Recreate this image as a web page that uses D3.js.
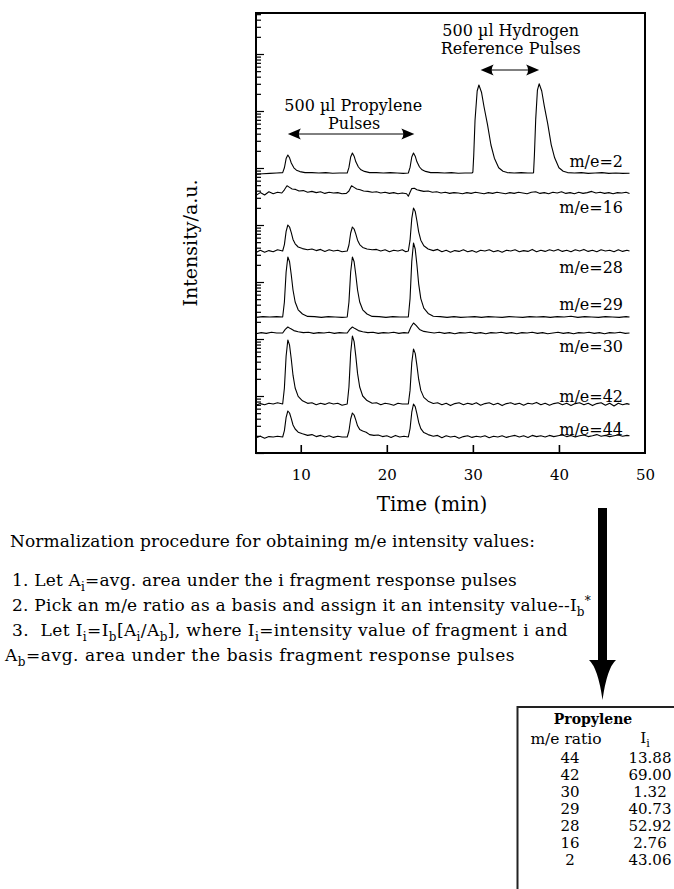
<!DOCTYPE html>
<html><head><meta charset="utf-8">
<script src="https://cdn.jsdelivr.net/npm/d3@7"></script>
<style>
body{margin:0;background:#fff}
svg{display:block}
text{font-family:"DejaVu Serif",serif;fill:#000}
</style>
</head><body>
<svg id="c" width="674" height="889" font-family="DejaVu Serif"></svg>
<script>
// ---------------- DATA ----------------
const traceNames = ["m/e=2","m/e=16","m/e=28","m/e=29","m/e=30","m/e=42","m/e=44"];
const traceBaselines = [70, 65, 50.5, 34, 30, 12.25, 4];   // a.u. offsets of each trace
const me2 = [[4.8,-0.3],[5.6,-0.2],[6.4,-0.1],[7.2,0.0],
 [7.9,0.1],[8.1,1.3],[8.3,3.6],[8.5,4.5],[8.7,3.8],[8.9,2.5],[9.2,1.3],[9.5,0.7],[9.9,0.35],[10.5,0.1],
 [11.3,0.1],[12.1,0.0],[12.9,0.1],[13.7,-0.05],[14.5,0.0],
 [15.4,0.0],[15.6,1.4],[15.8,4.0],[16.0,5.0],[16.2,4.2],[16.4,2.8],[16.7,1.5],[17.0,0.8],[17.4,0.4],[18.0,0.1],
 [18.8,0.1],[19.6,0.0],[20.4,0.1],[21.2,0.0],[21.9,-0.1],
 [22.5,0.0],[22.7,1.4],[22.9,4.0],[23.1,5.0],[23.3,4.2],[23.5,2.8],[23.8,1.5],[24.1,0.8],[24.5,0.4],[25.1,0.1],
 [25.9,0.1],[26.7,0.0],[27.5,0.1],[28.3,-0.05],[29.1,0.0],[29.9,0.0],
 [30.0,0.2],[30.1,4.4],[30.25,13.2],[30.5,20.5],[30.7,22],[31.0,20.2],[31.3,16.5],[31.7,12.1],[32.1,7.0],[32.5,3.7],[33.0,1.3],[33.5,0.45],[34.0,0.1],
 [34.8,0.0],[35.6,0.1],[36.4,0.0],[37.0,0.0],
 [37.05,0.1],[37.15,4.5],[37.3,13.4],[37.5,20.7],[37.7,22.3],[38.0,20.5],[38.3,16.7],[38.7,12.3],[39.1,7.1],[39.5,3.8],[40.0,1.3],[40.5,0.45],[41.0,0.1],
 [41.8,0.0],[42.6,0.1],[43.4,-0.1],[44.2,0.0],[45.0,0.1],[45.8,-0.1],[46.6,0.0],[47.4,-0.1],[48.2,-0.05]];
const me16 = [[4.8,-0.6],[5.3,0.1],[5.8,-0.5],[6.3,0.3],[6.8,-0.2],[7.3,0.2],[7.8,0.0],[8.1,0.8],[8.4,1.8],[8.7,1.4],[9.0,1.0],[9.4,0.9],[9.8,0.5],[10.3,0.6],[10.8,0.2],[11.3,0.4],[11.8,0.1],[12.3,0.3],[12.8,-0.1],[13.3,0.2],[13.8,0.0],[14.3,0.1],[14.8,-0.2],[15.3,-0.1],[15.6,0.5],[15.9,1.8],[16.2,1.4],[16.5,1.0],[16.9,0.8],[17.3,0.5],[17.8,0.4],[18.3,0.2],[18.8,0.3],[19.3,0.0],[19.8,0.2],[20.3,-0.1],[20.8,0.1],[21.3,-0.2],[21.8,0.0],[22.3,-0.2],[22.5,-0.8],[22.7,0.2],[22.9,1.1],[23.2,1.2],[23.5,0.8],[23.9,0.6],[24.3,0.4],[24.8,0.5],[25.3,0.2],[25.8,0.3],[26.3,0.0],[26.8,0.2],[27.3,-0.1],[27.8,0.1],[28.3,0.0],[28.8,-0.2],[29.3,0.1],[29.8,-0.1],[30.3,0.2],[30.8,0.0],[31.3,-0.2],[31.8,0.1],[32.3,-0.1],[32.8,0.2],[33.3,0.0],[33.8,-0.2],[34.3,0.1],[34.8,-0.1],[35.3,0.2],[35.8,0.0],[36.3,-0.2],[36.8,0.2],[37.3,0.3],[37.8,-0.1],[38.3,0.1],[38.8,-0.2],[39.3,0.2],[39.8,0.0],[40.3,0.3],[40.8,-0.1],[41.3,0.1],[41.8,-0.2],[42.3,0.2],[42.8,-0.1],[43.3,0.1],[43.8,0.4],[44.3,0.0],[44.8,0.2],[45.3,-0.1],[45.8,0.1],[46.3,-0.2],[46.8,0.1],[47.3,0.0],[47.8,0.2],[48.2,-0.1]];
const me28 = [[4.8,-0.4],[5.3,0.2],[5.8,-0.3],[6.3,0.1],[6.8,-0.2],[7.3,0.3],[7.9,0.0],
 [8.1,1.6],[8.3,4.9],[8.5,6.5],[8.7,6.0],[8.9,4.6],[9.1,2.9],[9.35,1.8],[9.7,1.0],[10.2,0.6],[10.8,0.3],
 [11.3,0.5],[11.8,0.1],[12.3,0.4],[12.8,-0.1],[13.3,0.3],[13.8,0.0],[14.3,0.2],[14.8,-0.2],[15.4,0.0],
 [15.6,1.5],[15.8,4.5],[16.0,6.0],[16.2,5.5],[16.4,4.2],[16.6,2.7],[16.85,1.6],[17.2,0.9],[17.7,0.5],[18.3,0.3],
 [18.8,0.4],[19.3,0.0],[19.8,0.3],[20.3,-0.2],[20.8,0.2],[21.3,0.0],[21.8,0.3],[22.2,-0.2],[22.5,0.0],
 [22.7,2.7],[22.9,8.1],[23.1,10.75],[23.3,9.9],[23.5,7.5],[23.7,4.8],[23.95,2.7],[24.3,1.3],[24.8,0.5],[25.4,0.1],
 [25.9,0.4],[26.4,-0.2],[26.9,0.2],[27.4,-0.3],[27.9,0.1],[28.4,-0.1],[28.9,0.3],[29.4,-0.2],[29.9,0.1],[30.4,-0.3],[30.9,0.2],[31.4,0.0],[31.9,0.3],[32.4,-0.2],[32.9,0.1],[33.4,-0.3],[33.9,0.2],[34.4,0.0],[34.9,0.3],[35.4,-0.2],[35.9,0.1],[36.4,-0.1],[36.9,0.4],[37.4,-0.2],[37.9,0.2],[38.4,-0.1],[38.9,0.3],[39.4,0.0],[39.9,0.4],[40.4,-0.1],[40.9,0.2],[41.4,-0.2],[41.9,0.3],[42.4,0.0],[42.9,0.4],[43.4,-0.1],[43.9,0.2],[44.4,-0.2],[44.9,0.3],[45.4,0.0],[45.9,0.2],[46.4,-0.2],[46.9,0.3],[47.4,-0.1],[47.9,0.2],[48.2,0.0]];
const me29 = [[4.8,-0.1],[5.6,0.1],[6.4,0.0],[7.2,0.1],[7.9,0.0],
 [8.1,3.75],[8.3,11.25],[8.5,15],[8.7,13.8],[8.9,10.5],[9.1,6.75],[9.35,3.75],[9.7,1.8],[10.2,0.75],[10.8,0.15],
 [11.6,0.1],[12.4,-0.1],[13.2,0.1],[14.0,0.0],[14.8,-0.1],[15.4,0.0],
 [15.6,3.75],[15.8,11.25],[16.0,15],[16.2,13.8],[16.4,10.5],[16.6,6.75],[16.85,3.75],[17.2,1.8],[17.7,0.75],[18.3,0.15],
 [19.1,0.1],[19.9,-0.1],[20.7,0.1],[21.5,0.0],[22.5,0.0],
 [22.7,4.6],[22.9,13.9],[23.1,18.5],[23.3,17.0],[23.5,13.0],[23.7,8.3],[23.95,4.6],[24.3,2.2],[24.8,0.9],[25.4,0.2],
 [26.2,0.1],[27.0,-0.1],[27.8,0.1],[28.6,-0.1],[29.4,0.0],[30.2,0.1],[31.0,-0.1],[31.8,0.1],[32.6,0.0],[33.4,-0.1],[34.2,0.1],[35.0,0.0],[35.8,-0.1],[36.6,0.1],[37.4,0.0],[38.2,0.1],[39.0,-0.1],[39.8,0.1],[40.6,0.0],[41.4,0.2],[42.2,-0.1],[43.0,0.1],[43.8,0.0],[44.6,-0.1],[45.4,0.1],[46.2,0.0],[47.0,-0.1],[47.8,0.1],[48.2,0.0]];
const me30 = [[4.8,-0.2],[5.4,0.1],[6.0,-0.1],[6.6,0.2],[7.2,0.0],[7.9,0.0],[8.2,0.9],[8.5,1.5],[8.8,1.1],[9.2,0.6],[9.7,0.3],[10.3,0.1],[10.9,0.2],[11.5,-0.1],[12.1,0.1],[12.7,0.0],[13.3,0.2],[13.9,-0.1],[14.5,0.1],[15.1,0.0],[15.4,0.0],[15.7,0.9],[16.0,1.5],[16.3,1.1],[16.7,0.6],[17.2,0.3],[17.8,0.1],[18.4,0.2],[19.0,-0.1],[19.6,0.1],[20.2,0.0],[20.8,0.2],[21.4,-0.1],[22.0,0.1],[22.5,0.0],[22.8,1.5],[23.1,2.5],[23.4,1.9],[23.8,0.9],[24.3,0.4],[24.9,0.2],[25.5,0.0],[26.1,0.2],[26.7,-0.1],[27.3,0.1],[27.9,-0.2],[28.5,0.1],[29.1,0.0],[29.7,0.2],[30.3,-0.1],[30.9,0.1],[31.5,-0.2],[32.1,0.1],[32.7,0.0],[33.3,0.2],[33.9,-0.1],[34.5,0.1],[35.1,-0.2],[35.7,0.1],[36.3,0.0],[36.9,0.2],[37.5,-0.1],[38.1,0.1],[38.7,-0.2],[39.3,0.0],[39.9,0.2],[40.5,-0.1],[41.1,0.1],[41.7,-0.2],[42.3,0.1],[42.9,0.0],[43.5,0.2],[44.1,-0.1],[44.7,0.1],[45.3,-0.2],[45.9,0.1],[46.5,0.0],[47.1,0.2],[47.7,-0.1],[48.2,0.0]];
const me42 = [[4.8,-0.3],[5.3,0.1],[5.8,-0.2],[6.3,0.2],[6.8,0.0],[7.3,0.3],[7.9,0.0],
 [8.1,4.0],[8.3,12.0],[8.5,16],[8.7,14.7],[8.9,11.2],[9.1,7.2],[9.35,4.0],[9.7,1.9],[10.2,0.8],[10.8,0.16],
 [11.3,0.3],[11.8,-0.2],[12.3,0.2],[12.8,-0.1],[13.3,0.3],[13.8,0.0],[14.3,0.2],[14.8,-0.3],[15.4,0.0],
 [15.6,4.25],[15.8,12.75],[16.0,17],[16.2,15.6],[16.4,11.9],[16.6,7.65],[16.85,4.25],[17.2,2.0],[17.7,0.85],[18.3,0.17],
 [18.8,0.3],[19.3,-0.2],[19.8,0.2],[20.3,0.0],[20.8,-0.3],[21.3,0.2],[21.8,0.0],[22.5,0.0],
 [22.7,3.4],[22.9,10.3],[23.1,13.75],[23.3,12.65],[23.5,9.6],[23.7,6.2],[23.95,3.4],[24.3,1.65],[24.8,0.7],[25.4,0.14],
 [25.9,0.3],[26.4,-0.2],[26.9,0.2],[27.4,-0.4],[27.9,0.1],[28.4,0.3],[28.9,-0.2],[29.4,0.2],[29.9,-0.1],[30.4,0.3],[30.9,-0.3],[31.4,0.1],[31.9,0.3],[32.4,-0.2],[32.9,0.2],[33.4,-0.4],[33.9,0.1],[34.4,0.3],[34.9,-0.1],[35.4,0.2],[35.9,-0.3],[36.4,0.2],[36.9,0.0],[37.4,0.4],[37.9,-0.2],[38.4,0.2],[38.9,-0.3],[39.4,0.1],[39.9,0.3],[40.4,-0.2],[40.9,0.2],[41.4,-0.4],[41.9,0.1],[42.4,0.3],[42.9,-0.2],[43.4,0.2],[43.9,-0.4],[44.4,0.1],[44.9,0.3],[45.4,-0.3],[45.9,0.2],[46.4,-0.5],[46.9,0.2],[47.4,-0.2],[47.9,0.1],[48.2,-0.1]];
const me44 = [[4.8,-0.2],[5.3,0.2],[5.8,-0.3],[6.3,0.1],[6.8,0.0],[7.3,0.2],[7.9,0.0],
 [8.1,1.6],[8.3,4.9],[8.5,6.5],[8.7,6.0],[8.9,4.6],[9.1,3.0],[9.35,2.0],[9.7,1.2],[10.2,0.8],[10.8,0.4],
 [11.3,0.6],[11.8,0.1],[12.3,0.4],[12.8,0.0],[13.3,0.3],[13.8,-0.1],[14.3,0.2],[14.8,0.0],[15.4,0.0],
 [15.6,1.5],[15.8,4.5],[16.0,6.0],[16.2,5.5],[16.4,4.2],[16.6,2.8],[16.85,1.9],[17.2,1.5],[17.6,1.2],[18.0,0.6],[18.5,0.4],
 [19.0,0.5],[19.5,0.1],[20.0,0.3],[20.5,-0.1],[21.0,0.4],[21.5,0.0],[22.0,0.2],[22.5,0.0],
 [22.7,2.1],[22.9,6.2],[23.1,8.25],[23.3,7.6],[23.5,5.8],[23.7,3.7],[23.95,2.1],[24.3,1.1],[24.8,0.6],[25.4,0.2],
 [25.9,0.4],[26.4,-0.2],[26.9,0.3],[27.4,0.0],[27.9,0.2],[28.4,-0.3],[28.9,0.1],[29.4,0.3],[29.9,-0.1],[30.4,0.2],[30.9,0.0],[31.4,0.3],[31.9,-0.2],[32.4,0.2],[32.9,0.0],[33.4,0.3],[33.9,-0.1],[34.4,0.2],[34.9,0.4],[35.4,0.0],[35.9,0.3],[36.4,-0.1],[36.9,0.4],[37.4,0.1],[37.9,0.3],[38.4,0.0],[38.9,0.4],[39.4,0.1],[39.9,0.3],[40.4,0.5],[40.9,0.1],[41.4,0.4],[41.9,0.0],[42.4,0.3],[42.9,0.5],[43.4,0.1],[43.9,0.3],[44.4,0.6],[44.9,0.2],[45.4,0.4],[45.9,0.1],[46.4,0.3],[46.9,0.5],[47.4,0.2],[47.9,0.4],[48.2,0.3]];
const traces = [me2, me16, me28, me29, me30, me42, me44];
const xTickValues = [10, 20, 30, 40, 50];
const tableMe = ["44","42","30","29","28","16","2"];
const tableI  = ["13.88","69.00","1.32","40.73","52.92","2.76","43.06"];

// ---------------- LAYOUT ----------------
const L = {left:256, right:645, top:13, bottom:453};
const labelDy = [1.5, -5, -5.5, 1.75, -4.75, 0.5, 0.5];   // label baseline offset (a.u.) from trace baseline
const labelT = 47.45;                                  // label right edge (min)

const svg = d3.select("#c");
const x = d3.scaleLinear().domain([4.8, 50]).range([L.left, L.right]);
const y = d3.scaleLinear().domain([0, 110]).range([L.bottom, L.top]);

// log-like intensity ticks on the left
const yLog = d3.scaleLog().domain([1, Math.pow(10, 440/57)]).range([L.bottom, L.top]);
const gy = svg.append("g").attr("transform", `translate(${L.left},0)`)
  .call(d3.axisRight(yLog).tickValues(yLog.ticks(20)).tickFormat("").tickSizeOuter(0));
gy.select(".domain").remove();
gy.selectAll(".tick line").attr("stroke","#000").attr("stroke-width",1.2)
  .attr("x2", d => Math.abs(Math.log10(d) - Math.round(Math.log10(d))) < 1e-9 ? 8 : 5);

// x axis
const gx = svg.append("g").attr("transform", `translate(0,${L.bottom})`)
  .call(d3.axisBottom(x).tickValues(xTickValues).tickSize(-8).tickSizeOuter(0).tickFormat(d3.format("d")));
gx.select(".domain").remove();
gx.selectAll(".tick line").attr("stroke","#000").attr("stroke-width",1.6)
  .attr("opacity", d => d === 50 ? 0 : 1);
gx.selectAll(".tick text").attr("y", 27).attr("dy", 0)
  .style("font-family","DejaVu Serif").style("font-size","15px").attr("fill","#000");

// frame
svg.append("rect").attr("x",L.left).attr("y",L.top).attr("width",L.right-L.left).attr("height",L.bottom-L.top)
  .attr("fill","none").attr("stroke","#000").attr("stroke-width",2);

// traces
const line = d3.line().x(d => x(d[0]));
traces.forEach((tr, i) => {
  svg.append("path").datum(tr)
    .attr("d", line.y(d => y(traceBaselines[i] + d[1])))
    .attr("fill","none").attr("stroke","#000").attr("stroke-width",1.1).attr("stroke-linejoin","round");
  svg.append("text").attr("x", x(labelT)).attr("y", y(traceBaselines[i] + labelDy[i]))
    .attr("text-anchor","end").style("font-size","16px").text(traceNames[i]);
});

// annotations
function dblArrow(t1, t2, v) {
  const x1 = x(t1), x2 = x(t2), yy = y(v);
  svg.append("line").attr("x1",x1+6).attr("x2",x2-6).attr("y1",yy).attr("y2",yy).attr("stroke","#000").attr("stroke-width",1);
  const head = (tx, dir) => `M${tx},${yy} L${tx+dir*13},${yy-5.5} Q${tx+dir*9},${yy} ${tx+dir*13},${yy+5.5} Z`;
  svg.append("path").attr("d", head(x1, 1)).attr("fill","#000");
  svg.append("path").attr("d", head(x2, -1)).attr("fill","#000");
}
dblArrow(30.9, 37.7, 95.75);
dblArrow(8.5, 23.2, 79.75);
const ann = [["500 µl Hydrogen",34.4,104.25],["Reference Pulses",34.4,99.75],
             ["500 µl Propylene",16.1,85.4],["Pulses",16.2,81]];
ann.forEach(a => svg.append("text").attr("x", x(a[1])).attr("y", y(a[2]))
  .attr("text-anchor","middle").style("font-size","16px").text(a[0]));

// axis titles
svg.append("text").attr("transform","translate(197,243) rotate(-90)").attr("text-anchor","middle")
  .style("font-size","19px").text("Intensity/a.u.");
svg.append("text").attr("x",432).attr("y",511).attr("text-anchor","middle")
  .style("font-size","20px").text("Time (min)");

// big down arrow
svg.append("rect").attr("x",598).attr("y",508).attr("width",9).attr("height",160).attr("fill","#000");
svg.append("path").attr("d","M589,660 Q598,668 602.5,700 Q607,668 616,660 Z").attr("fill","#000");

// text block
const tb = svg.append("g").style("font-size","17px");
function richLine(xp, yp, xEnd, parts) {
  const t = tb.append("text").attr("x", xp).attr("y", yp)
    .attr("xml:space","preserve").style("white-space","pre");
  let shift = 0;
  parts.forEach(p => {
    const s = typeof p === "string" ? {t:p, d:0} : p;
    const ts = t.append("tspan").text(s.t).attr("dy", s.d - shift);
    if (s.d !== 0) ts.style("font-size","12px");
    shift = s.d;
  });
  const w = t.node().getComputedTextLength();
  const n = t.text().length;
  t.style("letter-spacing", ((xEnd - xp - w) / n) + "px");
}
const sub = t => ({t, d:5});
const sup = t => ({t, d:-6});
richLine(10, 547, 535, ["Normalization procedure for obtaining m/e intensity values:"]);
richLine(12, 586, 517, ["1. Let A", sub("i"), "=avg. area under the i fragment response pulses"]);
richLine(12, 611, 591, ["2. Pick an m/e ratio as a basis and assign it an intensity value--I", sub("b"), sup("*")]);
richLine(12, 636, 568, ["3.  Let I", sub("i"), "=I", sub("b"), "[A", sub("i"), "/A", sub("b"), "], where I", sub("i"), "=intensity value of fragment i and"]);
richLine(5, 661, 515, ["A", sub("b"), "=avg. area under the basis fragment response pulses"]);

// table
svg.append("path").attr("d","M517.5,889 V707 H674").attr("fill","none").attr("stroke","#222").attr("stroke-width",2);
svg.append("text").attr("x",593).attr("y",724).attr("text-anchor","middle")
  .style("font-size","14px").style("font-weight","bold").text("Propylene");
svg.append("text").attr("x",566).attr("y",744).attr("text-anchor","middle").style("font-size","15.5px").text("m/e ratio");
const ih = svg.append("text").attr("x",645).attr("y",743).attr("text-anchor","middle").style("font-size","15.5px");
ih.append("tspan").text("I");
ih.append("tspan").text("i").attr("dy",4).style("font-size","11px");
const rowY = d3.scalePoint().domain(tableMe).range([763, 865]);
tableMe.forEach((m, i) => {
  svg.append("text").attr("x",570).attr("y",rowY(m)).attr("text-anchor","middle").style("font-size","15px").text(m);
  svg.append("text").attr("x",650).attr("y",rowY(m)).attr("text-anchor","middle").style("font-size","15px").text(tableI[i]);
});
</script>
</body></html>
